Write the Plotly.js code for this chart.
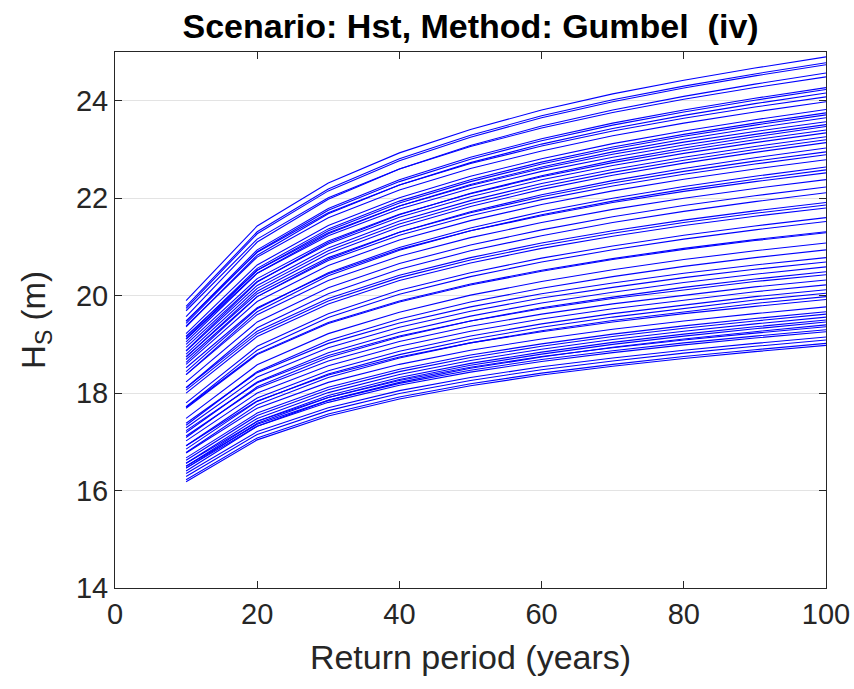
<!DOCTYPE html>
<html>
<head>
<meta charset="utf-8">
<script src="https://cdn.plot.ly/plotly-3.0.1.min.js"></script>
<style>
  html, body { margin: 0; padding: 0; background: #ffffff; }
  #chart { width: 854px; height: 689px; }
</style>
</head>
<body>
<div id="chart"></div>
<script>
// Return periods (years) at which every return-level curve is evaluated
const returnPeriods = [10, 20, 30, 40, 50, 60, 70, 80, 90, 100];

// Significant wave height return levels Hs (m), one row per curve
const hsCurves = [
  [19.90, 21.43, 22.31, 22.93, 23.41, 23.81, 24.14, 24.42, 24.67, 24.90],
  [19.78, 21.31, 22.19, 22.81, 23.29, 23.69, 24.02, 24.30, 24.55, 24.78],
  [19.74, 21.27, 22.15, 22.77, 23.25, 23.65, 23.98, 24.26, 24.51, 24.74],
  [19.57, 21.10, 21.98, 22.60, 23.08, 23.48, 23.81, 24.09, 24.34, 24.57],
  [19.69, 21.16, 22.01, 22.60, 23.06, 23.44, 23.76, 24.03, 24.27, 24.49],
  [19.47, 20.94, 21.79, 22.38, 22.84, 23.22, 23.54, 23.81, 24.05, 24.27],
  [19.43, 20.90, 21.75, 22.34, 22.80, 23.18, 23.50, 23.77, 24.01, 24.23],
  [19.36, 20.83, 21.68, 22.27, 22.73, 23.11, 23.43, 23.70, 23.94, 24.16],
  [19.48, 20.89, 21.70, 22.27, 22.71, 23.07, 23.38, 23.64, 23.87, 24.08],
  [19.38, 20.79, 21.60, 22.17, 22.61, 22.97, 23.28, 23.54, 23.77, 23.98],
  [19.22, 20.63, 21.44, 22.01, 22.45, 22.81, 23.12, 23.38, 23.61, 23.82],
  [19.15, 20.56, 21.37, 21.94, 22.38, 22.74, 23.05, 23.31, 23.54, 23.75],
  [19.11, 20.52, 21.33, 21.90, 22.34, 22.70, 23.01, 23.27, 23.50, 23.71],
  [19.05, 20.46, 21.27, 21.84, 22.28, 22.64, 22.95, 23.21, 23.44, 23.65],
  [19.17, 20.52, 21.29, 21.84, 22.26, 22.61, 22.90, 23.15, 23.37, 23.57],
  [19.11, 20.46, 21.23, 21.78, 22.20, 22.55, 22.84, 23.09, 23.31, 23.51],
  [18.87, 20.28, 21.09, 21.66, 22.10, 22.46, 22.77, 23.03, 23.26, 23.47],
  [19.00, 20.35, 21.12, 21.67, 22.09, 22.44, 22.73, 22.98, 23.20, 23.40],
  [18.94, 20.29, 21.06, 21.61, 22.03, 22.38, 22.67, 22.92, 23.14, 23.34],
  [18.86, 20.21, 20.98, 21.53, 21.95, 22.30, 22.59, 22.84, 23.06, 23.26],
  [18.80, 20.15, 20.92, 21.47, 21.89, 22.24, 22.53, 22.78, 23.00, 23.20],
  [18.74, 20.09, 20.86, 21.41, 21.83, 22.18, 22.47, 22.72, 22.94, 23.14],
  [18.63, 19.98, 20.75, 21.30, 21.72, 22.07, 22.36, 22.61, 22.83, 23.03],
  [18.75, 20.04, 20.78, 21.30, 21.70, 22.03, 22.31, 22.55, 22.76, 22.95],
  [18.69, 19.98, 20.72, 21.24, 21.64, 21.97, 22.25, 22.49, 22.70, 22.89],
  [18.59, 19.88, 20.62, 21.14, 21.54, 21.87, 22.15, 22.39, 22.60, 22.79],
  [18.44, 19.73, 20.47, 20.99, 21.39, 21.72, 22.00, 22.24, 22.45, 22.64],
  [18.38, 19.67, 20.41, 20.93, 21.33, 21.66, 21.94, 22.18, 22.39, 22.58],
  [18.52, 19.75, 20.45, 20.95, 21.33, 21.64, 21.91, 22.14, 22.34, 22.52],
  [18.38, 19.61, 20.31, 20.81, 21.19, 21.50, 21.77, 22.00, 22.20, 22.38],
  [18.23, 19.46, 20.16, 20.66, 21.04, 21.35, 21.62, 21.85, 22.05, 22.23],
  [18.11, 19.34, 20.04, 20.54, 20.92, 21.23, 21.50, 21.73, 21.93, 22.11],
  [18.11, 19.27, 19.94, 20.42, 20.78, 21.08, 21.33, 21.55, 21.74, 21.91],
  [18.06, 19.22, 19.89, 20.37, 20.73, 21.03, 21.28, 21.50, 21.69, 21.86],
  [18.00, 19.16, 19.83, 20.31, 20.67, 20.97, 21.22, 21.44, 21.63, 21.80],
  [17.80, 18.96, 19.63, 20.11, 20.47, 20.77, 21.02, 21.24, 21.43, 21.60],
  [17.72, 18.88, 19.55, 20.03, 20.39, 20.69, 20.94, 21.16, 21.35, 21.52],
  [17.71, 18.81, 19.45, 19.89, 20.24, 20.52, 20.76, 20.97, 21.15, 21.31],
  [17.69, 18.79, 19.43, 19.87, 20.22, 20.50, 20.74, 20.95, 21.13, 21.29],
  [17.48, 18.58, 19.22, 19.66, 20.01, 20.29, 20.53, 20.74, 20.92, 21.08],
  [17.34, 18.44, 19.08, 19.52, 19.87, 20.15, 20.39, 20.60, 20.78, 20.94],
  [17.38, 18.42, 19.02, 19.44, 19.77, 20.04, 20.26, 20.46, 20.63, 20.78],
  [17.29, 18.33, 18.93, 19.35, 19.68, 19.95, 20.17, 20.37, 20.54, 20.69],
  [17.19, 18.23, 18.83, 19.25, 19.58, 19.85, 20.07, 20.27, 20.44, 20.59],
  [17.09, 18.13, 18.73, 19.15, 19.48, 19.75, 19.97, 20.17, 20.34, 20.49],
  [17.23, 18.21, 18.77, 19.17, 19.48, 19.73, 19.94, 20.12, 20.29, 20.43],
  [17.12, 18.10, 18.66, 19.06, 19.37, 19.62, 19.83, 20.01, 20.18, 20.32],
  [17.02, 18.00, 18.56, 18.96, 19.27, 19.52, 19.73, 19.91, 20.08, 20.22],
  [16.92, 17.90, 18.46, 18.86, 19.17, 19.42, 19.63, 19.81, 19.98, 20.12],
  [16.85, 17.83, 18.39, 18.79, 19.10, 19.35, 19.56, 19.74, 19.91, 20.05],
  [16.78, 17.76, 18.32, 18.72, 19.03, 19.28, 19.49, 19.67, 19.84, 19.98],
  [16.92, 17.84, 18.37, 18.74, 19.03, 19.26, 19.46, 19.63, 19.78, 19.92],
  [16.77, 17.69, 18.22, 18.59, 18.88, 19.11, 19.31, 19.48, 19.63, 19.77],
  [16.67, 17.59, 18.12, 18.49, 18.78, 19.01, 19.21, 19.38, 19.53, 19.67],
  [16.62, 17.54, 18.07, 18.44, 18.73, 18.96, 19.16, 19.33, 19.48, 19.62],
  [16.56, 17.48, 18.01, 18.38, 18.67, 18.90, 19.10, 19.27, 19.42, 19.56],
  [16.50, 17.42, 17.95, 18.32, 18.61, 18.84, 19.04, 19.21, 19.36, 19.50],
  [16.46, 17.38, 17.91, 18.28, 18.57, 18.80, 19.00, 19.17, 19.32, 19.46],
  [16.40, 17.32, 17.85, 18.22, 18.51, 18.74, 18.94, 19.11, 19.26, 19.40],
  [16.56, 17.42, 17.91, 18.26, 18.53, 18.75, 18.93, 19.09, 19.23, 19.36],
  [16.50, 17.36, 17.85, 18.20, 18.47, 18.69, 18.87, 19.03, 19.17, 19.30],
  [16.46, 17.32, 17.81, 18.16, 18.43, 18.65, 18.83, 18.99, 19.13, 19.26],
  [16.35, 17.21, 17.70, 18.05, 18.32, 18.54, 18.72, 18.88, 19.02, 19.15],
  [16.29, 17.15, 17.64, 17.99, 18.26, 18.48, 18.66, 18.82, 18.96, 19.09],
  [16.22, 17.08, 17.57, 17.92, 18.19, 18.41, 18.59, 18.75, 18.89, 19.02],
  [16.18, 17.04, 17.53, 17.88, 18.15, 18.37, 18.55, 18.71, 18.85, 18.98]
];

// Axis tick values
const xTicks = [0, 20, 40, 60, 80, 100];
const yTicks = [14, 16, 18, 20, 22, 24];

const axisColor = '#262626';
const fontFamily = 'Liberation Sans, Arial, Helvetica, sans-serif';

const traces = hsCurves.map(function (hs) {
  return {
    x: returnPeriods,
    y: hs,
    type: 'scatter',
    mode: 'lines',
    line: { color: 'rgb(0,0,255)', width: 1.1 },
    hoverinfo: 'x+y',
    showlegend: false
  };
});

const layout = {
  width: 854,
  height: 689,
  margin: { l: 115, r: 28, t: 52, b: 101, pad: 0 },
  paper_bgcolor: '#ffffff',
  plot_bgcolor: '#ffffff',
  font: { family: fontFamily, color: axisColor },
  title: {
    text: '<b>Scenario: Hst, Method: Gumbel  (iv)</b>',
    font: { family: fontFamily, size: 34, color: '#000000' },
    x: 0.551,
    xanchor: 'center',
    y: 0.962,
    yanchor: 'middle'
  },
  xaxis: {
    range: [0, 100],
    tickvals: xTicks,
    ticktext: xTicks.map(String),
    ticks: 'inside',
    ticklen: 7,
    tickwidth: 1,
    tickcolor: axisColor,
    showline: true,
    linecolor: axisColor,
    linewidth: 1,
    mirror: 'ticks',
    showgrid: false,
    zeroline: false,
    tickfont: { size: 29, color: axisColor },
    title: { text: 'Return period (years)', font: { size: 34, color: axisColor }, standoff: 16 }
  },
  yaxis: {
    range: [14, 25],
    tickvals: yTicks,
    ticktext: yTicks.map(String),
    ticks: 'inside',
    ticklen: 7,
    tickwidth: 1,
    tickcolor: axisColor,
    showline: true,
    linecolor: axisColor,
    linewidth: 1,
    mirror: 'ticks',
    showgrid: true,
    gridcolor: '#e3e3e3',
    gridwidth: 1,
    zeroline: false,
    tickfont: { size: 29, color: axisColor },
    title: { text: 'H<sub>S</sub> (m)', font: { size: 33, color: axisColor }, standoff: 20 }
  }
};

Plotly.newPlot('chart', traces, layout, { staticPlot: true, displayModeBar: false });
</script>
</body>
</html>
